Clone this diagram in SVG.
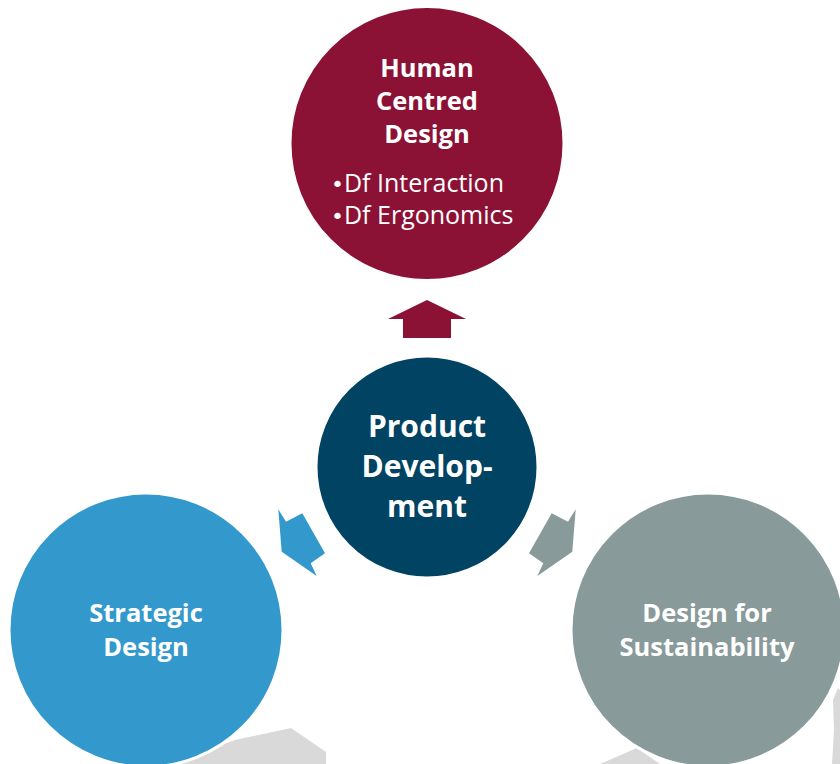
<svg xmlns="http://www.w3.org/2000/svg" width="840" height="764" viewBox="0 0 840 764">
<style>
.t{font-family:"Open Sans","Liberation Sans",sans-serif;fill:#fff;text-anchor:middle}
.b{font-weight:bold;font-size:25.5px}
.big{font-size:30px}
.r{font-size:25px;text-anchor:start}
.bu{font-family:"DejaVu Sans",sans-serif;font-size:22px}
.c{stroke:#fff;stroke-width:3}
.bg{fill:#d9d9d9}
</style>
<rect width="840" height="764" fill="#fff"/>
<g id="background">
<polygon class="bg" points="170,764 235,740 291,728 326,752 326,764"/>
<polygon class="bg" points="600,764 637,748 660,764"/>
<polygon class="bg" points="833,700 838,688 840,690 840,764 832,764 834,730"/>
</g>
<g id="connectors">
<polygon fill="#8b1235" points="427,300 466,319 451,319 451,338 403,338 403,319 388,319"/>
<polygon fill="#3399cc" points="281.7,551.7 278.3,509.3 286,521.7 302.3,513.3 325,553.3 310.7,563.3 316.7,576"/>
<polygon fill="#889a99" points="572.3,551.7 575.7,509.3 568,521.7 551.7,513.3 529,553.3 543.3,563.3 537.3,576"/>
</g>
<g id="human-centred-design">
<circle class="c" cx="427" cy="143.5" r="137" fill="#8b1235"/>
<text class="t b" x="427" y="76.5">Human</text>
<text class="t b" x="427" y="110">Centred</text>
<text class="t b" x="427" y="143">Design</text>
<text class="t r" x="331" y="192"><tspan class="bu">•</tspan>Df Interaction</text>
<text class="t r" x="331" y="224"><tspan class="bu">•</tspan>Df Ergonomics</text>
</g>
<g id="product-development">
<circle class="c" cx="427" cy="467" r="111" fill="#004363"/>
<text class="t b big" x="427" y="437">Product</text>
<text class="t b big" x="427" y="477">Develop-</text>
<text class="t b big" x="427" y="517">ment</text>
</g>
<g id="strategic-design">
<circle class="c" cx="146" cy="630" r="137" fill="#3399cc"/>
<text class="t b" x="146" y="621.5">Strategic</text>
<text class="t b" x="146" y="656">Design</text>
</g>
<g id="design-for-sustainability">
<circle class="c" cx="708" cy="630" r="137" fill="#889a99"/>
<text class="t b" x="707" y="621.5">Design for</text>
<text class="t b" x="707" y="656">Sustainability</text>
</g>
</svg>
